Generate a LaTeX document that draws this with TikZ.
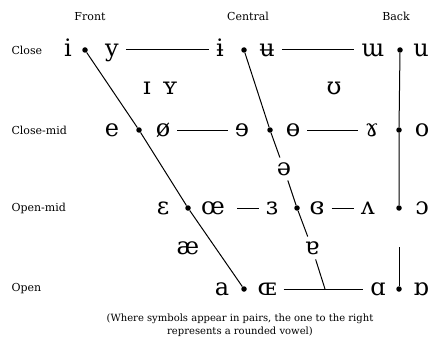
\documentclass[tikz,border=0pt]{standalone}
\usepackage{fontspec}
\setmainfont{DejaVu Serif}

\begin{document}
\begin{tikzpicture}[x=1pt,y=-1pt,font=\fontsize{11}{13}\selectfont,
    vw/.style={font=\fontsize{24}{26}\selectfont,text height=12.5pt,text depth=0pt,inner sep=2pt},
    brk/.style={inner sep=5pt},
    dot/.style={circle,fill,inner sep=0pt,minimum size=5.5pt},
    ln/.style={line width=1pt},
    bar/.style={ln,shorten <=5pt,shorten >=5pt}]
  \useasboundingbox (0,0) rectangle (433,350);
  % column heads
  \node (front) at (90,17) {Front};
  \node (central) at (248,16) {Central};
  \node (back) at (396,16) {Back};
  % row heads
  \foreach \nm/\y/\lab in {close/50/Close,closemid/130/Close-mid,openmid/208/Open-mid,open/289/Open}
    \node[anchor=west] (\nm) at (8,\y) {\lab};
  % dots
  \foreach \nm/\x/\y in {clf/85/50,clc/244/50,clb/400/50,cmf/139/130,cmc/270/130,cmb/399/130,
                          omf/188/208,omc/297/208,omb/399/208,opf/244/289,opb/399/289}
    \node[dot] (\nm) at (\x,\y) {};
  % vowels
  \foreach \nm/\x/\y/\sym in {i/68/50/i,y/112/50/y,ibar/220/50/ɨ,ubar/267/50/ʉ,turnm/373/50/ɯ,u/421/50/u,
      e/112/130/e,oslash/163/130/ø,reve/242/130/ɘ,obar/293/130/ɵ,ramshorn/372/130/ɤ,o/422/130/o,
      eps/163/208/ɛ,oe/213/208/œ,reveps/272/208/ɜ,closedeps/317/208/ɞ,turnv/368/208/ʌ,openo/422/208/ɔ,
      a/222/289/a,smalloe/267/289/ɶ,alpha/378/289/ɑ,turnalpha/421/289/ɒ,
      smalli/147/88/ɪ,smally/170/88/ʏ,horseshoe/334/88/ʊ,ash/188/248/æ}
    \node[vw] (\nm) at (\x,\y) {\sym};
  \node[vw,brk] (schwa) at (284,169) {ə};
  \node[vw,brk] (turna) at (312,248) {ɐ};
  \coordinate (cend) at (325,289);
  \coordinate (gap) at (399,247);
  % horizontal bars
  \draw[bar] (y) -- (ibar);
  \draw[bar] (ubar) -- (turnm);
  \draw[bar] (oslash) -- (reve);
  \draw[bar] (obar) -- (ramshorn);
  \draw[bar,shorten <=10pt] (oe) -- (reveps);
  \draw[bar] (closedeps) -- (turnv);
  \draw[bar] (smalloe) -- (alpha);
  % front, central and back lines
  \draw[ln] (clf) -- (cmf) -- (omf) -- (opf);
  \draw[ln] (clc) -- (cmc) -- (schwa);
  \draw[ln] (schwa) -- (omc) -- (turna);
  \draw[ln] (turna) -- (cend);
  \draw[ln] (clb) -- (cmb) -- (omb);
  \draw[ln] (opb) -- (gap);
  % note
  \node[align=center,font=\fontsize{10}{13}\selectfont] (note) at (240,325)
    {(Where symbols appear in pairs, the one to the right\\represents a rounded vowel)};
\end{tikzpicture}
\end{document}
